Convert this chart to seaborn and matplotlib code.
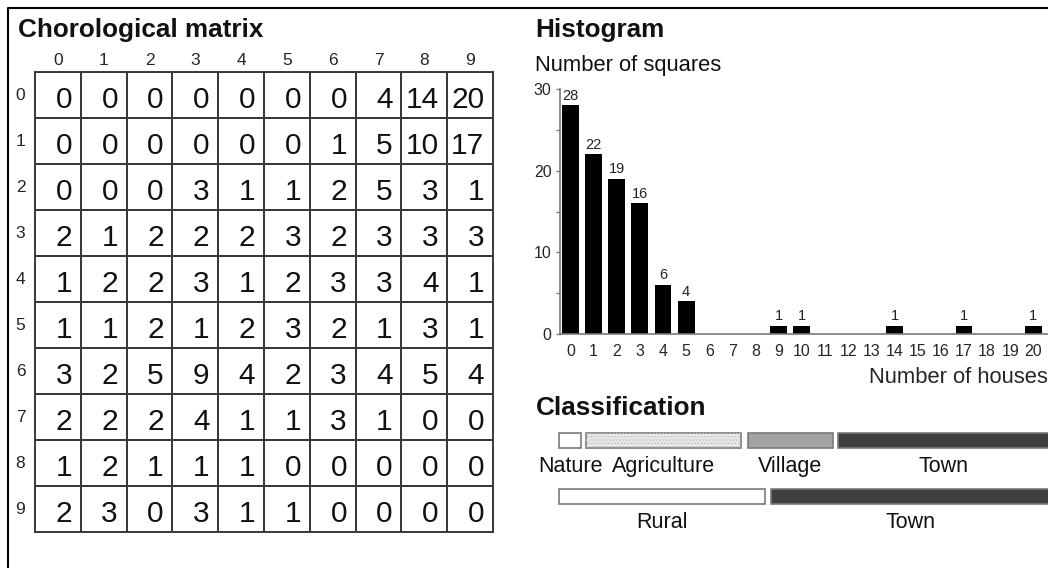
import numpy as np
import matplotlib
matplotlib.use('Agg')
import matplotlib.pyplot as plt
from matplotlib.colors import ListedColormap
from matplotlib.lines import Line2D
import seaborn as sns

#  Data 
row_labels = [str(i) for i in range(10)]
col_labels = [str(i) for i in range(10)]
houses = np.array([
    [0, 0, 0, 0, 0, 0, 0, 4, 14, 20],
    [0, 0, 0, 0, 0, 0, 1, 5, 10, 17],
    [0, 0, 0, 3, 1, 1, 2, 5, 3, 1],
    [2, 1, 2, 2, 2, 3, 2, 3, 3, 3],
    [1, 2, 2, 3, 1, 2, 3, 3, 4, 1],
    [1, 1, 2, 1, 2, 3, 2, 1, 3, 1],
    [3, 2, 5, 9, 4, 2, 3, 4, 5, 4],
    [2, 2, 2, 4, 1, 1, 3, 1, 0, 0],
    [1, 2, 1, 1, 1, 0, 0, 0, 0, 0],
    [2, 3, 0, 3, 1, 1, 0, 0, 0, 0],
])
hist_ticks = list(range(21))

# classification bands (in "number of houses" units, schematic)
class_names = ['Nature', 'Agriculture', 'Village', 'Town']
class_start = [-0.48, 0.67, 7.65, 11.57]
class_end = [0.45, 7.37, 11.34, 20.7]
class_colors = ['white', '#e8e8e8', '#a3a3a3', '#3f3f3f']
class_hatch = ['', '.....', '', '']
broad_names = ['Rural', 'Town']
broad_start = [-0.48, 8.65]
broad_end = [8.4, 20.7]
broad_colors = ['white', '#3f3f3f']
broad_hatch = ['', '']

#  Setup 
sns.set_theme(style='white')
plt.rcParams['font.family'] = ['Liberation Sans', 'DejaVu Sans']
plt.rcParams['text.color'] = '#111111'
plt.rcParams['hatch.linewidth'] = 0.6
W, H = 1048, 568
fig = plt.figure(figsize=(W / 100, H / 100), dpi=100)

def fx(px):
    return px / W

def fy(py):
    return 1 - py / H

# outer frame (cropped at right/bottom)
fig.add_artist(Line2D([fx(8), fx(8), 1.0], [0.0, fy(8), fy(8)],
                      color='black', lw=1.5, transform=fig.transFigure))

#  Chorological matrix 
ax_m = fig.add_axes([fx(35), fy(532), fx(493) - fx(35), fy(72) - fy(532)])
sns.heatmap(houses, ax=ax_m, cmap=ListedColormap(['white']), cbar=False,
            annot=True, fmt='d', annot_kws={'fontsize': 21.5, 'color': '#111'},
            linewidths=1.4, linecolor='#3a3a3a',
            xticklabels=col_labels, yticklabels=row_labels)
for t in ax_m.texts:
    x, y = t.get_position()
    t.set_position((x + 0.31, y + 0.28))
    t.set_ha('right')
    t.set_va('baseline')
for s in ax_m.spines.values():
    s.set_visible(True)
    s.set_color('#3a3a3a')
    s.set_linewidth(1.4)
ax_m.xaxis.tick_top()
ax_m.tick_params(axis='x', length=0, pad=3, labelsize=12.5, rotation=0)
ax_m.tick_params(axis='y', length=0, pad=7, labelsize=12.5, rotation=0)
fig.text(fx(18), fy(36.5), 'Chorological matrix', fontsize=18.8,
         fontweight='bold', va='baseline', ha='left')

#  Histogram 
ax_h = fig.add_axes([fx(560), fy(334), 1 - fx(560), fy(89) - fy(334)])
sns.histplot(x=houses.ravel(), discrete=True, shrink=0.73, color='black',
             alpha=1, linewidth=0, ax=ax_h)
cont = ax_h.containers[0]
ax_h.bar_label(cont, labels=[str(int(p.get_height())) if p.get_height() > 0 else ''
                             for p in cont.patches],
               padding=2, fontsize=10.5, color='#222')
ax_h.set_xlim(-0.45, 20.63)
ax_h.set_ylim(0, 30)
ax_h.set_xticks(hist_ticks)
ax_h.set_yticks([0, 10, 20, 30])
ax_h.set_yticks([5, 15, 25], minor=True)
ax_h.set_ylabel('')
ax_h.set_xlabel('Number of houses', loc='right', fontsize=15.8, labelpad=6)
sns.despine(ax=ax_h)
for s in ['left', 'bottom']:
    ax_h.spines[s].set_color('#7a7a7a')
    ax_h.spines[s].set_linewidth(1.2)
ax_h.tick_params(axis='x', length=0, pad=7, labelsize=11.5)
ax_h.tick_params(axis='y', which='both', direction='out', left=True,
                 length=3, width=1, color='#7a7a7a', pad=3, labelsize=11.5)
fig.text(fx(535), fy(37), 'Histogram', fontsize=18.8, fontweight='bold',
         va='baseline', ha='left')
fig.text(fx(535), fy(71), 'Number of squares', fontsize=15.8,
         va='baseline', ha='left')

#  Classification 
ax_c = fig.add_axes([fx(560), fy(540), 1 - fx(560), fy(412) - fy(540)])
ax_c.set_xlim(ax_h.get_xlim())
ax_c.set_ylim(1.777, -0.509)
ax_c.axis('off')
for row, (names, st, en, cols, hat) in enumerate([
        (class_names, class_start, class_end, class_colors, class_hatch),
        (broad_names, broad_start, broad_end, broad_colors, broad_hatch)]):
    widths = np.array(en) - np.array(st)
    ax_c.barh([row] * len(names), widths, left=st, height=0.27, color=cols,
              edgecolor='#7a7a7a', linewidth=1.2, clip_on=False)
    # light stipple on top of the fill
    dots = ax_c.barh([row] * len(names), widths, left=st, height=0.27,
                     fill=False, edgecolor='#bdbdbd', linewidth=0, clip_on=False)
    for p, h in zip(dots.patches, hat):
        p.set_hatch(h)
    for n, s0, e0 in zip(names, st, en):
        ax_c.text((s0 + e0) / 2, row + 0.57, n, ha='center', va='baseline',
                  fontsize=15.5, clip_on=False)
fig.text(fx(536), fy(415), 'Classification', fontsize=18.8, fontweight='bold',
         va='baseline', ha='left')

plt.savefig('out.png', dpi=100)
